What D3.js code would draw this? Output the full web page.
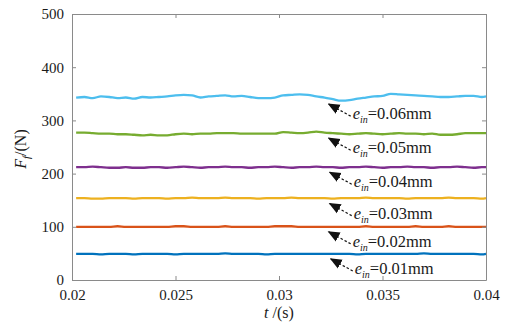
<!DOCTYPE html>
<html>
<head>
<meta charset="utf-8">
<script src="https://cdn.jsdelivr.net/npm/d3@7/dist/d3.min.js"></script>
<style>
  html, body { margin: 0; padding: 0; background: #fff; }
  svg { display: block; }
  svg text { font-family: "Liberation Serif", "Times New Roman", Times, serif; }
</style>
</head>
<body>
<svg id="chart" width="511" height="324"></svg>
<script>
// Sample times (s)
const time = [
  0.0202, 0.0206, 0.0210, 0.0214, 0.0218, 0.0222, 0.0226, 0.0230, 0.0234, 0.0238,
  0.0242, 0.0246, 0.0250, 0.0254, 0.0258, 0.0262, 0.0266, 0.0270, 0.0274, 0.0278,
  0.0282, 0.0286, 0.0290, 0.0294, 0.0298, 0.0302, 0.0306, 0.0310, 0.0314, 0.0318,
  0.0322, 0.0326, 0.0330, 0.0334, 0.0338, 0.0342, 0.0346, 0.0350, 0.0354, 0.0358,
  0.0362, 0.0366, 0.0370, 0.0374, 0.0378, 0.0382, 0.0386, 0.0390, 0.0394, 0.0398,
  0.0400
];

// Friction force F_f (N) for each interference e_in
const ff001 = [49,49,49,48,49,49,49,48,49,49,49,49,48,49,49,49,49,49,50,49,49,49,49,48,49,49,49,49,49,49,49,49,49,49,48,49,49,49,49,49,49,49,50,49,49,49,49,49,49,48,49];
const ff002 = [100,100,100,100,100,101,100,100,100,100,100,100,101,101,100,100,100,100,101,100,100,100,100,100,101,101,101,100,100,100,100,100,100,100,100,101,100,100,100,100,100,101,100,100,100,101,100,100,100,100,100];
const ff003 = [154,154,153,153,154,154,154,153,154,154,154,153,154,154,155,154,154,154,155,154,154,154,153,154,154,154,155,154,154,154,154,153,154,154,154,155,154,154,154,154,153,154,154,154,154,155,154,154,154,153,154];
const ff004 = [212,212,213,212,211,211,212,211,211,212,212,211,212,213,212,211,212,212,213,212,212,211,212,212,213,212,211,212,212,213,212,212,211,212,212,213,212,211,212,212,213,212,212,211,212,212,213,212,211,212,212];
const ff005 = [277,277,276,275,275,274,274,273,272,273,272,272,274,275,274,275,275,276,276,276,275,275,275,275,275,278,277,276,277,279,277,276,275,274,275,276,275,274,275,276,275,275,274,275,273,273,274,276,276,276,276];
const ff006 = [343,344,342,345,344,342,343,341,344,343,344,345,347,348,347,343,345,346,347,345,346,344,342,342,343,347,348,349,348,345,343,340,337,338,341,343,345,346,350,349,348,347,346,345,344,344,345,346,346,344,345];

const seriesValues = [ff001, ff002, ff003, ff004, ff005, ff006];
const seriesLabels = ["0.01mm", "0.02mm", "0.03mm", "0.04mm", "0.05mm", "0.06mm"];
const seriesColors = ["#0072BD", "#D95319", "#EDB120", "#7E2F8E", "#77AC30", "#4DBEEE"];

// Time at which each annotation arrow points to its curve
const arrowTime = [0.0325, 0.0324, 0.03245, 0.03245, 0.0324, 0.0324];

const xTicks = [0.02, 0.025, 0.03, 0.035, 0.04];
const xTickLabels = ["0.02", "0.025", "0.03", "0.035", "0.04"];
const yTicks = [0, 100, 200, 300, 400, 500];
const yTickLabels = ["0", "100", "200", "300", "400", "500"];

const margin = { left: 72, right: 25, top: 14, bottom: 44 };
const W = 511, H = 324;
const serif = "Liberation Serif, Times New Roman, serif";
const svg = d3.select("#chart");

const x = d3.scaleLinear().domain([0.02, 0.04]).range([margin.left, W - margin.right]);
const y = d3.scaleLinear().domain([0, 500]).range([H - margin.bottom, margin.top]);

const frameColor = "#8a8a8a";
const textColor = "#1a1a1a";

// Curves
const line = d3.line()
  .x((d, i) => x(time[i]))
  .y(d => y(d))
  .curve(d3.curveMonotoneX);

svg.append("g").selectAll("path")
  .data(seriesValues)
  .join("path")
  .attr("d", d => line(d))
  .attr("fill", "none")
  .attr("stroke", (d, i) => seriesColors[i])
  .attr("stroke-width", 2.3)
  .attr("stroke-linejoin", "round");

// Axes with inward ticks on all four sides
const axisB = d3.axisBottom(x).tickValues(xTicks).tickFormat((d, i) => xTickLabels[i]).tickSizeInner(-4).tickSizeOuter(0).tickPadding(9);
const axisT = d3.axisTop(x).tickValues(xTicks).tickFormat("").tickSizeInner(-4).tickSizeOuter(0);
const axisL = d3.axisLeft(y).tickValues(yTicks).tickFormat((d, i) => yTickLabels[i]).tickSizeInner(-4).tickSizeOuter(0).tickPadding(8);
const axisR = d3.axisRight(y).tickValues(yTicks).tickFormat("").tickSizeInner(-4).tickSizeOuter(0);

function styleAxis(g) {
  g.attr("font-family", serif).attr("font-size", 15);
  g.select(".domain").attr("stroke", frameColor).attr("stroke-width", 1);
  g.selectAll(".tick line").attr("stroke", frameColor);
  g.selectAll(".tick text").attr("fill", textColor);
}

svg.append("g").attr("transform", `translate(0,${y(0)})`).call(axisB).call(styleAxis);
svg.append("g").attr("transform", `translate(0,${y(500)})`).call(axisT).call(styleAxis);
svg.append("g").attr("transform", `translate(${x(0.02)},0)`).call(axisL).call(styleAxis);
svg.append("g").attr("transform", `translate(${x(0.04)},0)`).call(axisR).call(styleAxis);

// Arrow head marker
svg.append("defs").append("marker")
  .attr("id", "head")
  .attr("viewBox", "0 0 10 10")
  .attr("refX", 9).attr("refY", 5)
  .attr("markerWidth", 12).attr("markerHeight", 12)
  .attr("markerUnits", "userSpaceOnUse")
  .attr("orient", "auto")
  .append("path")
  .attr("d", "M0,0.8 L10,5 L0,9.2 Z")
  .attr("fill", "#111");

// Annotations: dashed arrow pointing at each curve, with label e_in = value
const ann = svg.append("g").attr("font-family", serif);
seriesValues.forEach((vals, i) => {
  const t = arrowTime[i];
  const k = d3.bisectLeft(time, t);
  const v = vals[Math.min(k, vals.length - 1)];
  const tipX = x(t), tipY = y(v) + 5;
  const tailX = tipX + 22, tailY = tipY + 12;
  ann.append("line")
    .attr("x1", tailX).attr("y1", tailY)
    .attr("x2", tipX).attr("y2", tipY)
    .attr("stroke", "#111").attr("stroke-width", 1.2)
    .attr("stroke-dasharray", "2.5,2")
    .attr("marker-end", "url(#head)");
  const txt = ann.append("text")
    .attr("x", tailX + 2).attr("y", tipY + 15)
    .attr("fill", textColor)
    .attr("font-size", 16.5);
  txt.append("tspan").attr("font-style", "italic").text("e");
  txt.append("tspan").attr("font-style", "italic").attr("font-size", 10).attr("dy", 4).text("in");
  txt.append("tspan").attr("dy", -4).text("=" + seriesLabels[i]);
});

// Axis titles
const xt = svg.append("text")
  .attr("x", x(0.03)).attr("y", 318)
  .attr("text-anchor", "middle")
  .attr("fill", textColor)
  .attr("font-size", 16);
xt.append("tspan").attr("font-style", "italic").text("t");
xt.append("tspan").text(" /(s)");

const yt = svg.append("text")
  .attr("transform", `translate(26,${y(250) + 2}) rotate(-90)`)
  .attr("text-anchor", "middle")
  .attr("fill", textColor)
  .attr("font-size", 16);
yt.append("tspan").attr("font-style", "italic").text("F");
yt.append("tspan").attr("font-style", "italic").attr("font-size", 11).attr("dy", 4).text("f");
yt.append("tspan").attr("dy", -4).text("/(N)");
</script>
</body>
</html>
